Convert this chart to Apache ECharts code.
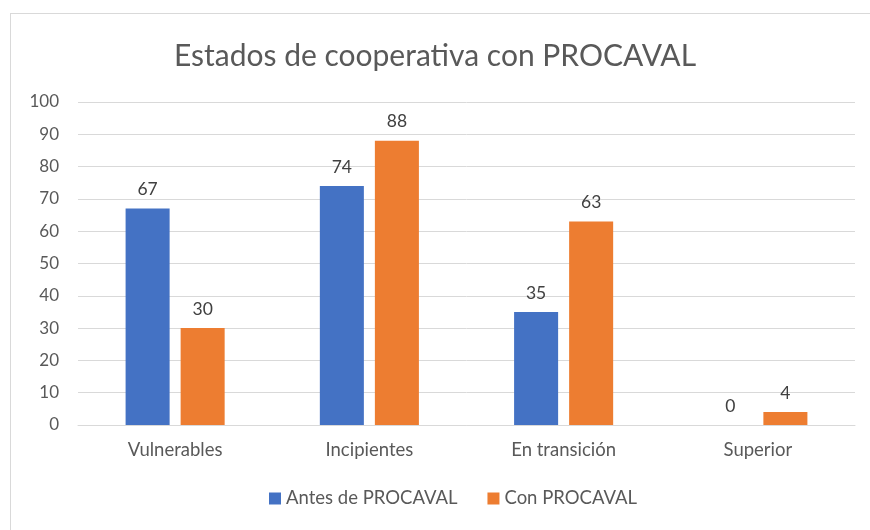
<!DOCTYPE html>
<html>
<head>
<meta charset="utf-8">
<script src="https://cdn.jsdelivr.net/npm/echarts@6/dist/echarts.min.js"></script>
<style>
  html, body { margin: 0; padding: 0; background: #fff; }
  #chart { width: 870px; height: 530px; }
  .frame { position: absolute; left: 10px; top: 13px; width: 880px; height: 540px; border: 1px solid #d9d9d9; pointer-events: none; }
</style>
</head>
<body>
<div id="chart"></div>
<div class="frame"></div>
<script>
let categories = ['Vulnerables', 'Incipientes', 'En transición', 'Superior']
let antes = [67, 74, 35, 0]
let con = [30, 88, 63, 4]
let yTicks = { min: 0, max: 100, interval: 10 }

let font = 'Lato, "Open Sans", sans-serif'
let myChart = echarts.init(document.getElementById('chart'))
myChart.setOption({
  textStyle: { fontFamily: font },
  title: {
    text: 'Estados de cooperativa con PROCAVAL',
    left: 'center',
    top: 36,
    textStyle: { fontSize: 30, fontWeight: 'normal', color: '#595959', fontFamily: font }
  },
  grid: { left: 78, right: 15, top: 102, bottom: 105 },
  legend: {
    bottom: 17,
    left: 264,
    itemWidth: 12,
    itemHeight: 12,
    itemGap: 30,
    icon: 'rect',
    textStyle: { fontSize: 18.5, color: '#595959', fontFamily: font },
    data: ['Antes de PROCAVAL', 'Con PROCAVAL']
  },
  xAxis: {
    type: 'category',
    data: categories,
    axisTick: { show: false },
    axisLine: { lineStyle: { color: '#d9d9d9' } },
    axisLabel: { fontSize: 18.5, color: '#595959', margin: 16 }
  },
  yAxis: {
    type: 'value',
    min: yTicks.min,
    max: yTicks.max,
    interval: yTicks.interval,
    axisLabel: { fontSize: 17, color: '#595959', margin: 19 },
    splitLine: { lineStyle: { color: '#d9d9d9' } }
  },
  series: [
    {
      name: 'Antes de PROCAVAL',
      type: 'bar',
      data: antes,
      barGap: '25%',
      barCategoryGap: '49%',
      label: { show: true, position: 'top', fontSize: 17.5, color: '#404040', distance: 10 }
    },
    {
      name: 'Con PROCAVAL',
      type: 'bar',
      data: con,
      barGap: '25%',
      barCategoryGap: '49%',
      label: { show: true, position: 'top', fontSize: 17.5, color: '#404040', distance: 10 }
    }
  ],
  color: ['#4472c4', '#ed7d31']
})
</script>
</body>
</html>
